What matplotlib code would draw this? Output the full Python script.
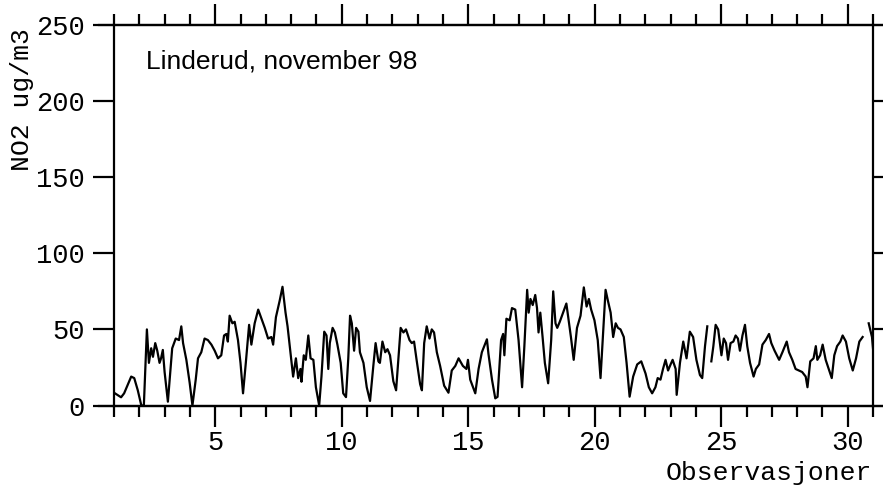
import matplotlib.pyplot as plt
import numpy as np
from matplotlib.lines import Line2D

# NO2 concentration, Linderud, november 1998 (day of month, ug/m3); nan = missing
days = [1.00, 1.28, 1.40, 1.68, 1.80, 1.94, 2.08, 2.18, 2.30, 2.38, 2.47, 2.54,
        2.63, 2.71, 2.80, 2.86, 2.93, 3.00, 3.13, 3.30, 3.44, 3.57, 3.66, 3.73,
        3.86, 3.99, 4.10, 4.23, 4.32, 4.45, 4.58, 4.71, 4.85, 4.98, 5.11, 5.24,
        5.35, 5.44, 5.50, 5.57, 5.68, 5.77, 5.90, 6.00, 6.10, 6.21, 6.34, 6.43,
        6.56, 6.70, 6.83, 6.96, 7.09, 7.22, 7.29, 7.40, 7.55, 7.66, 7.78, 7.86,
        7.95, 8.08, 8.19, 8.28, 8.37, 8.41, 8.50, 8.58, 8.68, 8.77, 8.88, 8.98,
        9.11, 9.20, 9.31, 9.40, 9.47, 9.53, 9.64, 9.73, 9.83, 9.96, 10.06, 10.17,
        10.26, 10.33, 10.40, 10.49, 10.57, 10.66, 10.72, 10.86, 10.99, 11.12, 11.25, 11.34,
        11.45, 11.51, 11.61, 11.72, 11.81, 11.91, 12.04, 12.15, 12.24, 12.33, 12.44, 12.54,
        12.68, 12.77, 12.86, 12.96, 13.10, 13.17, 13.26, 13.36, 13.47, 13.56, 13.65, 13.76,
        13.89, 14.05, 14.22, 14.35, 14.49, 14.62, 14.79, 14.93, 14.99, 15.08, 15.19, 15.28,
        15.41, 15.54, 15.74, 15.80, 15.94, 16.07, 16.16, 16.30, 16.38, 16.43, 16.51, 16.64,
        16.73, 16.86, 16.99, 17.13, 17.22, 17.33, 17.39, 17.46, 17.55, 17.65, 17.72, 17.78,
        17.85, 17.94, 18.03, 18.16, 18.28, 18.36, 18.45, 18.52, 18.62, 18.75, 18.88, 18.97,
        19.06, 19.17, 19.30, 19.44, 19.57, 19.68, 19.77, 19.86, 19.99, 20.12, 20.23, 20.34,
        20.43, 20.52, 20.63, 20.73, 20.83, 20.92, 21.02, 21.15, 21.26, 21.38, 21.52, 21.68,
        21.84, 22.01, 22.14, 22.27, 22.40, 22.49, 22.60, 22.70, 22.80, 22.90, 23.00, 23.08,
        23.20, 23.24, 23.37, 23.50, 23.63, 23.76, 23.89, 24.02, 24.16, 24.25, 24.36, 24.45,
        24.53, 24.61, 24.69, 24.78, 24.88, 25.01, 25.10, 25.19, 25.27, 25.37, 25.48, 25.57,
        25.66, 25.74, 25.84, 25.94, 26.03, 26.14, 26.28, 26.37, 26.50, 26.63, 26.76, 26.89,
        26.98, 27.11, 27.29, 27.42, 27.59, 27.68, 27.81, 27.94, 28.07, 28.20, 28.34, 28.41,
        28.52, 28.65, 28.74, 28.80, 28.91, 29.01, 29.13, 29.27, 29.37, 29.47, 29.58, 29.71,
        29.80, 29.93, 30.06, 30.20, 30.33, 30.46, 30.59, 30.70, 30.83, 30.96, 31.00]

no2 = [8.4, 5.4, 8.0, 19.0, 18.0, 10.0, 0.0, 0.0, 50.0, 28.0, 37.6, 32.0,
       41.0, 36.0, 28.0, 31.0, 36.5, 22.0, 2.5, 37.6, 44.0, 43.0, 52.0, 41.0,
       30.0, 15.0, 0.0, 17.0, 31.0, 35.0, 44.0, 43.0, 40.0, 36.0, 31.0, 33.0,
       46.0, 47.0, 42.0, 59.0, 54.0, 55.0, 43.0, 28.0, 8.0, 28.0, 53.0, 40.0,
       54.0, 63.0, 57.0, 51.0, 44.0, 45.0, 40.0, 58.0, 69.0, 78.0, 61.0, 52.0,
       38.6, 19.0, 31.0, 18.0, 24.0, 15.6, 33.0, 30.0, 46.0, 31.0, 30.0, 12.0,
       0.0, 19.0, 48.5, 46.0, 24.0, 41.0, 51.0, 48.0, 40.0, 28.0, 8.0, 5.5,
       31.0, 59.0, 54.0, 36.0, 51.0, 48.5, 35.0, 28.0, 12.0, 3.0, 26.0, 41.0,
       29.0, 28.0, 42.0, 35.0, 37.0, 33.0, 16.0, 10.0, 31.0, 51.0, 48.0, 50.0,
       43.0, 41.0, 42.0, 30.0, 14.0, 10.0, 41.0, 52.0, 44.0, 50.0, 48.0, 35.0,
       26.0, 13.0, 8.4, 23.0, 26.0, 31.0, 26.0, 24.0, 30.0, 17.0, 12.0, 8.0,
       24.0, 35.0, 43.5, 34.0, 17.0, 4.7, 5.7, 43.0, 47.0, 33.0, 57.0, 56.0,
       64.0, 63.0, 43.0, 12.0, 39.0, 76.0, 61.0, 70.0, 66.0, 72.6, 64.0, 48.0,
       61.0, 45.0, 28.0, 14.6, 43.0, 75.0, 54.0, 51.0, 55.0, 61.0, 67.0, 56.0,
       45.0, 30.0, 51.0, 59.0, 77.6, 65.0, 70.0, 63.0, 56.0, 43.0, 18.0, 50.0,
       76.0, 69.0, 61.0, 45.0, 54.0, 51.0, 50.0, 45.0, 28.0, 5.8, 19.0, 27.0,
       29.0, 21.0, 12.0, 8.0, 12.0, 18.0, 17.0, 24.0, 30.0, 23.0, 27.0, 30.0,
       24.0, 7.0, 28.0, 42.0, 31.0, 48.5, 45.0, 30.0, 20.0, 18.0, 39.0, 52.0,
       np.nan, 29.0, 39.0, 53.0, 50.0, 33.0, 44.0, 41.0, 30.0, 41.0, 42.0, 46.0,
       44.0, 36.0, 46.0, 53.0, 39.0, 28.0, 19.0, 24.0, 27.0, 40.0, 43.0, 47.0,
       41.0, 36.0, 30.0, 35.0, 42.0, 35.0, 30.0, 24.0, 23.0, 22.0, 19.0, 12.0,
       29.0, 31.0, 39.0, 30.0, 33.0, 40.0, 30.0, 23.0, 18.0, 33.0, 39.0, 42.0,
       46.0, 42.0, 31.0, 23.0, 31.0, 42.0, 45.0, np.nan, 54.0, 45.0, 37.6]

y_ticks = [0, 50, 100, 150, 200, 250]
x_ticks = [5, 10, 15, 20, 25, 30]

W, H = 883, 491
fig = plt.figure(figsize=(W / 100, H / 100), dpi=100)
ax = fig.add_axes([114 / W, 1 - 405.5 / H, 759 / W, 380.5 / H])

ax.plot(days, no2, color='black', lw=1.6)

ax.set_xlim(1, 31)
ax.set_ylim(0, 250)
ax.set_xticks(x_ticks)
ax.set_xticks(np.arange(1, 32), minor=True)
ax.set_yticks(y_ticks)

mono = 'Liberation Mono'
ax.tick_params(axis='both', which='both', direction='out', width=1.6, color='black')
ax.tick_params(axis='x', which='major', length=15, top=True, labeltop=False, pad=3)
ax.tick_params(axis='x', which='minor', length=8, top=True)
ax.tick_params(axis='y', which='major', length=15, right=True, pad=6)
for lab in ax.get_xticklabels() + ax.get_yticklabels():
    lab.set_fontfamily(mono)
    lab.set_fontsize(19.5)

for sp in ax.spines.values():
    sp.set_linewidth(1.6)

# horizontal frame lines run a bit past the vertical ones
for yy in (25, 405.5):
    fig.add_artist(Line2D([99 / W, 883 / W], [1 - yy / H, 1 - yy / H],
                          color='black', lw=1.6))

fig.text(146 / W, 1 - 69 / H, 'Linderud, november 98',
         fontfamily='Liberation Sans', fontsize=19, ha='left', va='baseline')

fig.text(872 / W, 1 - 473 / H, 'Observasjoner', fontfamily=mono, fontsize=19,
         ha='right', va='center')
fig.text(22 / W, 1 - 28 / H, 'NO2 ug/m3', fontfamily=mono, fontsize=19,
         rotation=90, ha='center', va='top')

fig.savefig('out.png', dpi=100)
